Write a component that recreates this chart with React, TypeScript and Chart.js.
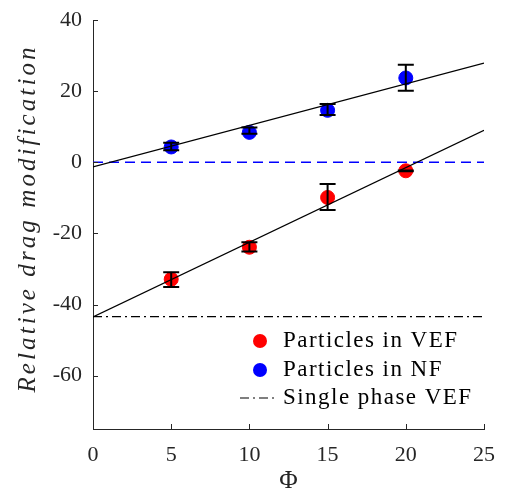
import React, { useEffect, useRef } from "react";
import { Chart, registerables } from "chart.js";
Chart.register(...registerables);

const phi = [5, 10, 15, 20];
const vefValues = [-32.9, -23.9, -9.9, -2.4];
const vefErrLow = [-35.1, -25.1, -13.4, -2.5];
const vefErrHigh = [-30.9, -22.5, -6.1, -2.3];
const nfValues = [4.3, 8.4, 14.6, 23.7];
const nfErrLow = [3.4, 8.0, 13.3, 20.1];
const nfErrHigh = [5.5, 9.8, 16.4, 27.4];
const fitX = [0, 25];
const vefFitY = [-43.5, 9.0];
const nfFitY = [-1.3, 27.9];
const singlePhaseVEF = [-43.4, -43.4];
const nfBaseline = [0, 0];
const xTicks = [0, 5, 10, 15, 20, 25];
const yTicks = [-60, -40, -20, 0, 20, 40];
const legendLabels = ["Particles in VEF", "Particles in NF", "Single phase VEF"];
const xTitle = "Φ";
const yTitle = "Relative drag modification";

const FONT = '"Liberation Serif"';
const AXIS = "#262626";

const pts = (xs: number[], ys: number[]) => xs.map((x, i) => ({ x, y: ys[i] }));

const textWidth = (ctx: CanvasRenderingContext2D, t: string, sp: number) =>
  Array.from(t).reduce((a, ch) => a + ctx.measureText(ch).width, 0) + sp * (t.length - 1);

const drawSpaced = (ctx: CanvasRenderingContext2D, t: string, x: number, y: number, sp: number) => {
  let cx = x;
  for (const ch of Array.from(t)) {
    ctx.fillText(ch, cx, y);
    cx += ctx.measureText(ch).width + sp;
  }
};

const overlay = {
  id: "overlay",
  afterDatasetsDraw(chart: any) {
    const ctx = chart.ctx as CanvasRenderingContext2D;
    const xs = chart.scales.x;
    const ys = chart.scales.y;
    const ca = chart.chartArea;
    ctx.save();
    // error bars
    ctx.strokeStyle = "#000";
    ctx.lineWidth = 2;
    const drawErr = (lo: number[], hi: number[]) => {
      phi.forEach((p, i) => {
        const px = xs.getPixelForValue(p);
        const y1 = ys.getPixelForValue(lo[i]);
        const y2 = ys.getPixelForValue(hi[i]);
        ctx.beginPath();
        ctx.moveTo(px, y1);
        ctx.lineTo(px, y2);
        ctx.moveTo(px - 8, y1);
        ctx.lineTo(px + 8, y1);
        ctx.moveTo(px - 8, y2);
        ctx.lineTo(px + 8, y2);
        ctx.stroke();
      });
    };
    drawErr(vefErrLow, vefErrHigh);
    drawErr(nfErrLow, nfErrHigh);
    // inward ticks
    ctx.strokeStyle = AXIS;
    ctx.lineWidth = 1;
    ctx.beginPath();
    xTicks.forEach((v) => {
      const px = Math.round(xs.getPixelForValue(v)) + 0.5;
      ctx.moveTo(px, ca.bottom);
      ctx.lineTo(px, ca.bottom - 5);
    });
    yTicks.forEach((v) => {
      const py = Math.round(ys.getPixelForValue(v)) + 0.5;
      ctx.moveTo(ca.left, py);
      ctx.lineTo(ca.left + 5, py);
    });
    ctx.stroke();

    // legend
    const lx = ca.right - 224;
    const tx = ca.right - 201;
    const base = [ca.bottom - 82, ca.bottom - 53, ca.bottom - 25];
    ctx.fillStyle = "#ff0000";
    ctx.beginPath();
    ctx.arc(lx, base[0] - 6, 7, 0, Math.PI * 2);
    ctx.fill();
    ctx.fillStyle = "#0000ff";
    ctx.beginPath();
    ctx.arc(lx, base[1] - 6, 7, 0, Math.PI * 2);
    ctx.fill();
    ctx.strokeStyle = "#000";
    ctx.lineWidth = 1.2;
    ctx.setLineDash([9, 4, 2, 4]);
    ctx.beginPath();
    ctx.moveTo(lx - 20, base[2] - 6);
    ctx.lineTo(lx + 17, base[2] - 6);
    ctx.stroke();
    ctx.setLineDash([]);
    const k = 23 / 22;
    ctx.font = `22px ${FONT}`;
    ctx.fillStyle = "#000";
    ctx.textAlign = "left";
    ctx.textBaseline = "alphabetic";
    const w0 = textWidth(ctx, legendLabels[0], 0) * k;
    const sp = Math.max(0, (174 - w0) / (legendLabels[0].length - 1)) / k;
    legendLabels.forEach((t, i) => {
      ctx.save();
      ctx.translate(tx, base[i]);
      ctx.scale(k, k);
      drawSpaced(ctx, t, 0, 0, sp);
      ctx.restore();
    });

    // axis titles
    ctx.fillStyle = AXIS;
    ctx.textAlign = "center";
    ctx.textBaseline = "middle";
    ctx.save();
    ctx.translate((ca.left + ca.right) / 2, 481);
    ctx.scale(1.15, 1.15);
    ctx.font = `22px ${FONT}`;
    ctx.fillText(xTitle, 0, 0);
    ctx.restore();
    ctx.save();
    ctx.translate(28, 220);
    ctx.rotate(-Math.PI / 2);
    const k2 = 25 / 22;
    ctx.scale(k2, k2);
    ctx.font = `italic 22px ${FONT}`;
    ctx.textAlign = "left";
    const wt = textWidth(ctx, yTitle, 0) * k2;
    const sp2 = Math.max(0, (345 - wt) / (yTitle.length - 1)) / k2;
    drawSpaced(ctx, yTitle, -172.5 / k2, 0, sp2);
    ctx.restore();
    ctx.restore();
  },
};

export default function App() {
  const ref = useRef<HTMLCanvasElement>(null);
  useEffect(() => {
    if (!ref.current) return;
    const lineDs = (data: number[], color: string, dash: number[], width: number) => ({
      type: "line" as const,
      data: pts(fitX, data),
      borderColor: color,
      borderWidth: width,
      borderDash: dash,
      pointRadius: 0,
      showLine: true,
      fill: false,
      order: 1,
    });
    const chart = new Chart(ref.current, {
      type: "scatter",
      data: {
        datasets: [
          {
            label: legendLabels[0],
            data: pts(phi, vefValues),
            backgroundColor: "#ff0000",
            borderColor: "#ff0000",
            pointRadius: 7,
            order: 2,
          },
          {
            label: legendLabels[1],
            data: pts(phi, nfValues),
            backgroundColor: "#0000ff",
            borderColor: "#0000ff",
            pointRadius: 7,
            order: 2,
          },
          { label: "fitVEF", ...lineDs(vefFitY, "#000", [], 1.2) },
          { label: "fitNF", ...lineDs(nfFitY, "#000", [], 1.2) },
          { label: "zero", ...lineDs(nfBaseline, "#0000ff", [10, 6], 1.3) },
          { label: legendLabels[2], ...lineDs(singlePhaseVEF, "#000", [9, 4, 2, 4], 1.2) },
        ] as any,
      },
      options: {
        responsive: false,
        animation: false,
        devicePixelRatio: 1,
        layout: { padding: { top: 20, right: 21, left: 0, bottom: 0 } },
        plugins: { legend: { display: false }, tooltip: { enabled: false } },
        scales: {
          x: {
            type: "linear",
            min: 0,
            max: 25,
            afterBuildTicks: (s: any) => {
              s.ticks = xTicks.map((v) => ({ value: v }));
            },
            afterFit: (s: any) => {
              s.height = 65;
              s.paddingLeft = 0;
              s.paddingRight = 0;
            },
            grid: { display: false, drawTicks: false },
            border: { display: true, color: AXIS, width: 1 },
            ticks: {
              padding: 13,
              color: AXIS,
              font: { family: FONT, size: 22 },
              callback: (v: any) => String(v),
            },
          },
          y: {
            type: "linear",
            min: -75,
            max: 40,
            afterBuildTicks: (s: any) => {
              s.ticks = yTicks.map((v) => ({ value: v }));
            },
            afterFit: (s: any) => {
              s.width = 93;
              s.paddingTop = 0;
              s.paddingBottom = 0;
            },
            grid: { display: false, drawTicks: false },
            border: { display: true, color: AXIS, width: 1 },
            ticks: {
              padding: 11,
              color: AXIS,
              font: { family: FONT, size: 22 },
              callback: (v: any) => String(v),
            },
          },
        },
      } as any,
      plugins: [overlay],
    });
    return () => chart.destroy();
  }, []);
  return (
    <div style={{ position: "absolute", left: 0, top: 0, width: 505, height: 494, background: "#fff" }}>
      <canvas ref={ref} width={505} height={494} />
    </div>
  );
}
